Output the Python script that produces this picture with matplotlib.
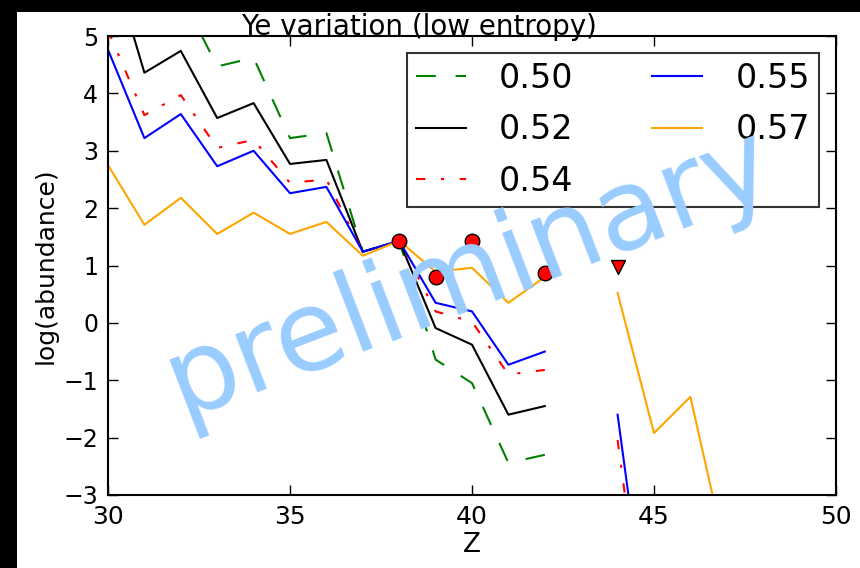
import numpy as np
import matplotlib
matplotlib.use('Agg')
import matplotlib.pyplot as plt
from matplotlib.patches import Rectangle

nan = np.nan

# proton number
Z = np.arange(30, 48)

# log abundances for each electron fraction
ye_labels = ['0.50', '0.52', '0.54', '0.55', '0.57']
ab_050 = [7.5, 7.0, 5.73, 4.47, 4.62, 3.22, 3.31, 1.24, 1.43, -0.64, -1.05, -2.44, -2.30]
ab_052 = [6.5, 4.36, 4.74, 3.57, 3.83, 2.77, 2.84, 1.24, 1.43, -0.09, -0.38, -1.60, -1.45]
ab_054 = [5.1, 3.62, 3.97, 3.05, 3.19, 2.44, 2.50, 1.24, 1.43, 0.20, 0.02, -0.90, -0.82, nan, -2.04, -6.8]
ab_055 = [4.76, 3.22, 3.64, 2.73, 3.00, 2.26, 2.37, 1.24, 1.43, 0.35, 0.20, -0.73, -0.50, nan, -1.60, -6.3]
ab_057 = [2.75, 1.71, 2.18, 1.55, 1.92, 1.55, 1.76, 1.17, 1.43, 0.89, 0.96, 0.35, 0.80, nan, 0.52, -1.92, -1.29, -4.1]

# observed abundances and an upper limit
obs_z = [38, 39, 40, 42]
obs_ab = [1.43, 0.80, 1.43, 0.87]
lim_z = [44]
lim_ab = [0.98]

fig = plt.figure(figsize=(8.6, 5.68), dpi=100)
fig.patch.set_facecolor('white')
# dark frame strips on left and top
fig.patches.append(Rectangle((0, 0), 17 / 860., 1, transform=fig.transFigure,
                             facecolor='black', edgecolor='none', zorder=-5))
fig.patches.append(Rectangle((0, 1 - 12 / 568.), 1, 12 / 568., transform=fig.transFigure,
                             facecolor='black', edgecolor='none', zorder=-5))

ax = fig.add_axes([108 / 860., 73 / 568., 728 / 860., 459 / 568.])

styles = [
    dict(color='green', dashes=(9.5, 9.5)),
    dict(color='black', linestyle='-'),
    dict(color='red', dashes=(4.5, 7.5, 1.5, 7.5)),
    dict(color='blue', linestyle='-'),
    dict(color='orange', linestyle='-'),
]
series = [ab_050, ab_052, ab_054, ab_055, ab_057]
for lab, ab, st in zip(ye_labels, series, styles):
    ab = np.array(ab, dtype=float)
    ax.plot(Z[:len(ab)], ab, lw=1.5, label=lab, **st)

ax.plot(obs_z, obs_ab, 'o', color='red', mec='black', mew=1.0, ms=10.5, zorder=5)
ax.plot(lim_z, lim_ab, 'v', color='red', mec='black', mew=1.0, ms=10.5, zorder=5)

ax.set_xlim(30, 50)
ax.set_ylim(-3, 5)
ax.set_xticks([30, 35, 40, 45, 50])
ax.set_yticks(range(-3, 6))
ax.tick_params(direction='in', top=True, right=True, length=7, width=1, pad=7)
ax.tick_params(axis='x', labelsize=18)
ax.tick_params(axis='y', labelsize=17)
for sp in ax.spines.values():
    sp.set_linewidth(1.5)

ax.set_xlabel('Z', fontsize=19, labelpad=2)
ax.set_ylabel('log(abundance)', fontsize=18, labelpad=4)

fig.text(419 / 860., 1 - 35 / 568., 'Ye variation (low entropy)', fontsize=20,
         ha='center', va='baseline')

leg = ax.legend(loc='upper right', ncol=2, fontsize=24, frameon=True, fancybox=False,
                handlelength=1.5, handletextpad=1.0, columnspacing=2.35,
                labelspacing=0.55, borderpad=0.28, borderaxespad=0.5)
leg.get_frame().set_edgecolor('black')
leg.get_frame().set_linewidth(1.5)

ax.text(0.497, 0.483, 'preliminary', transform=ax.transAxes, fontsize=81,
        color='#99ccff', rotation=21, ha='center', va='center', zorder=10)

fig.savefig('out.png', dpi=100)
